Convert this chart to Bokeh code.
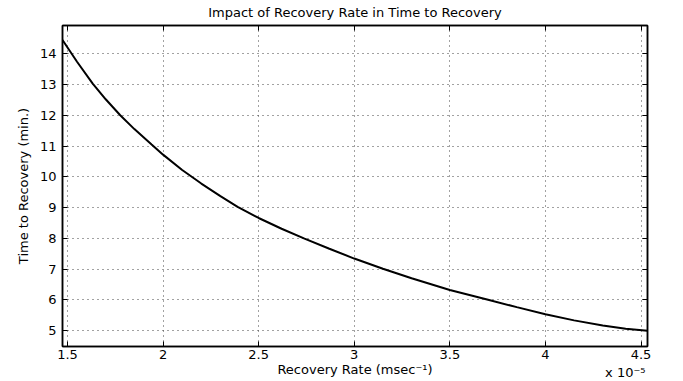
from bokeh.plotting import figure
from bokeh.models import Range1d, LinearAxis, FixedTicker, Title, CustomJSTickFormatter
from bokeh.embed import file_html
from bokeh.resources import INLINE

# Recovery rate in units of 1e-5 msec^-1
recovery_rate_e5 = [1.474, 1.55, 1.632, 1.70, 1.776, 1.85, 1.94, 2.0, 2.1, 2.2, 2.3, 2.39,
                    2.5, 2.62, 2.74, 2.87, 3.0, 3.15, 3.3, 3.5, 3.7, 3.85, 4.0, 4.15,
                    4.3, 4.42, 4.534]
time_to_recovery = [14.45, 13.74, 13.03, 12.52, 12.0, 11.55, 11.05, 10.72, 10.22, 9.78, 9.37, 9.02,
                    8.66, 8.31, 7.99, 7.66, 7.34, 7.01, 6.70, 6.32, 6.0, 5.76, 5.53, 5.33,
                    5.16, 5.06, 4.99]
x_ticks = [1.5, 2, 2.5, 3, 3.5, 4, 4.5]
y_ticks = [5, 6, 7, 8, 9, 10, 11, 12, 13, 14]
exponent_note = "x 10\u207b\u2075"

FONT = "DejaVu Sans"
FS = "13px"

p = figure(width=683, height=381, output_backend="svg", toolbar_location=None,
           x_range=Range1d(1.474, 4.534), y_range=Range1d(4.48, 14.92),
           min_border_left=62, min_border_right=36, min_border_top=25, min_border_bottom=35,
           title="Impact of Recovery Rate in Time to Recovery")

p.title.align = "center"
p.title.text_font = FONT
p.title.text_font_size = FS
p.title.text_font_style = "normal"
p.title.text_color = "black"
p.title.vertical_align = "top"
p.title.standoff = 8

p.outline_line_color = "black"
p.outline_line_width = 1.5
p.outline_line_alpha = 1.0
p.background_fill_color = "white"
p.border_fill_color = "white"

p.line(recovery_rate_e5, time_to_recovery, line_color="black", line_width=2)

def style_axis(ax, ticks, show_labels):
    ax.ticker = FixedTicker(ticks=ticks)
    ax.axis_line_color = "black"
    ax.axis_line_width = 1.5
    ax.major_tick_in = 5
    ax.major_tick_out = 0
    ax.major_tick_line_color = "black"
    ax.minor_tick_line_color = None
    ax.major_label_text_font = FONT
    ax.major_label_text_color = "black"
    if show_labels:
        ax.major_label_text_font_size = FS
    else:
        ax.formatter = CustomJSTickFormatter(code="return ''")
        ax.major_label_text_font_size = "1px"
        ax.major_label_standoff = 0

style_axis(p.xaxis[0], x_ticks, True)
style_axis(p.yaxis[0], y_ticks, True)
p.xaxis[0].major_label_standoff = 3
p.yaxis[0].major_label_standoff = 6
p.xaxis[0].axis_label = "Recovery Rate (msec\u207b\u00b9)"
p.yaxis[0].axis_label = "Time to Recovery (min.)"
for ax in (p.xaxis[0], p.yaxis[0]):
    ax.axis_label_text_font = FONT
    ax.axis_label_text_font_size = FS
    ax.axis_label_text_font_style = "normal"
    ax.axis_label_text_color = "black"
p.xaxis[0].axis_label_standoff = 0
p.yaxis[0].axis_label_standoff = 6

top_ax = LinearAxis()
right_ax = LinearAxis()
style_axis(top_ax, x_ticks, False)
style_axis(right_ax, y_ticks, False)
p.add_layout(top_ax, "above")
p.add_layout(right_ax, "right")

for g, ticks in ((p.xgrid[0], x_ticks), (p.ygrid[0], y_ticks)):
    g.ticker = FixedTicker(ticks=ticks)
    g.grid_line_color = "#444444"
    g.grid_line_dash = "1 4"
    g.grid_line_width = 1

note = Title(text=exponent_note, align="right", vertical_align="top", offset=2,
             text_font=FONT, text_font_size=FS, text_font_style="normal",
             text_color="black", standoff=-30)
p.add_layout(note, "below")

open("out.html", "w").write(file_html(p, INLINE))
